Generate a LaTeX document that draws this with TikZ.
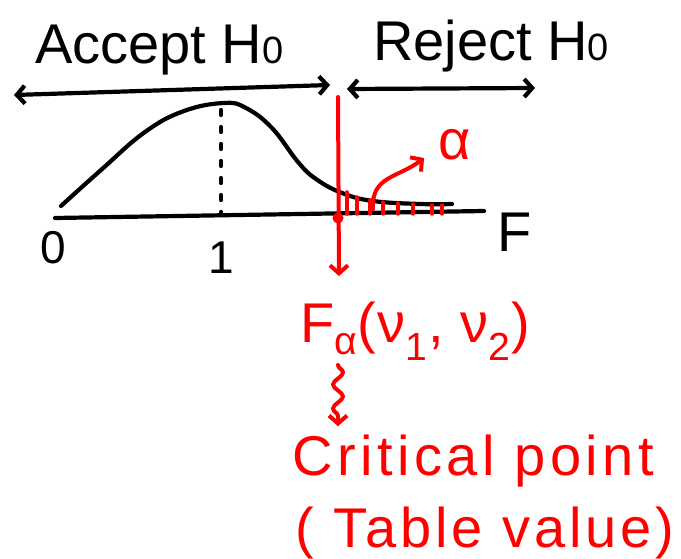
\documentclass[tikz,border=0pt]{standalone}
\usepackage{fontspec}
\setmainfont{Liberation Sans}
\usetikzlibrary{arrows.meta,decorations.pathmorphing,calc}

\newcommand\lowzero{{\fontsize{38}{40}\selectfont 0}}

\begin{document}
\begin{tikzpicture}[x=1pt, y=-1pt,
    line cap=round, line join=round,
    hand/.style={font=\fontsize{56}{60}\selectfont, inner sep=0pt},
    small/.style={font=\fontsize{46}{50}\selectfont, inner sep=0pt},
    pen/.style={line width=4.2pt},
    redpen/.style={line width=4pt, red},
    barbs/.style={{Straight Barb[length=8pt,width=18pt]}-{Straight Barb[length=8pt,width=18pt]}},
    tip/.style={-{Straight Barb[length=8pt,width=18pt]}}
  ]
    \useasboundingbox (0,0) rectangle (681,559);

    % regions
    \node[hand, anchor=base west] (acc) at (35,64) {Accept H\lowzero};
    \node[hand, anchor=base west] (rej) at (373,61) {Reject H\lowzero};
    \coordinate (accL) at (14,95);
    \coordinate (accR) at (330,85);
    \coordinate (rejL) at (347,89);
    \coordinate (rejR) at (535,88);
    \draw[pen, barbs] (accL) -- (accR);
    \draw[pen, barbs] (rejL) -- (rejR);

    % axis and density
    \coordinate (o) at (55,218);
    \coordinate (axEnd) at (484,211);
    \draw[pen] (o) -- (axEnd);
    \draw[pen] plot[smooth, tension=0.7] coordinates {(61,206) (101,170) (145,132) (184,111) (224,103) (246,108) (272,128) (298,162) (316,179) (342,193) (373,201) (420,204) (452,204)};
    \draw[pen, dash pattern=on 5pt off 12pt] (221,110) -- (221,212);
    \node[small] (zero) at (53,248) {0};
    \node[small] (one) at (221,258) {1};
    \node[hand] (F) at (515,232) {F};

    % critical value
    \coordinate (cut) at (338,218);
    \coordinate (cutTop) at (338,97);
    \coordinate (cutBot) at (339,276);
    \draw[redpen, tip] (cutTop) -- (cutBot);
    \fill[red] (cut) circle (5.5pt);
    \foreach \x/\y in {347/192, 357/197, 370/200, 383/202, 398/203, 413/204, 432/205, 442/205}
      \draw[redpen, line width=3.5pt] (\x,\y) -- (\x,214);
    \coordinate (alphaTip) at (424,158);
    \draw[redpen, tip] (373,209) .. controls (371,176) and (398,178) .. (alphaTip);
    \node[hand, red] (alpha) at (455,145) {α};

    % table lookup
    \node[hand, red, anchor=base west] (fa) at (300,342) {\addfontfeature{LetterSpace=3}F\textsubscript{α}(ν\textsubscript{1}, ν\textsubscript{2})};
    \node[hand, red, anchor=base west] (crit) at (292,475) {\addfontfeature{LetterSpace=8}Critical point};
    \node[hand, red, anchor=base west] (tab) at (295,547) {\addfontfeature{LetterSpace=7}( Table value)};
    \draw[redpen, tip, decorate, decoration={snake, amplitude=5pt, segment length=24pt, post length=10pt}] ($(fa.south -| cut)+(0,4)$) -- ($(crit.north -| cut)+(0,-8)$);
  \end{tikzpicture}
\end{document}
